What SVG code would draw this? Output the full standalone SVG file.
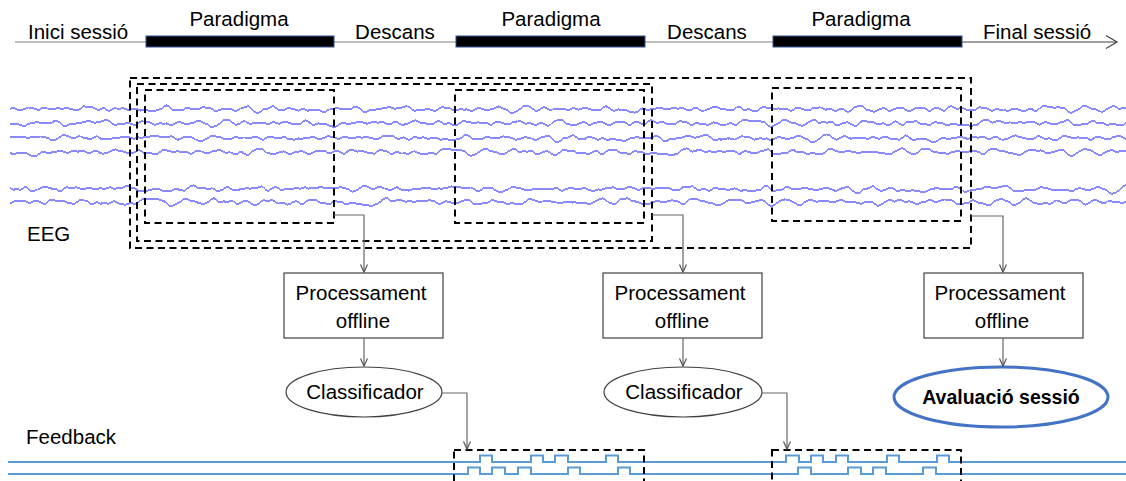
<svg xmlns="http://www.w3.org/2000/svg" width="1126" height="481" viewBox="0 0 1126 481">
<style>
text{font-family:"Liberation Sans",Arial,sans-serif;font-size:20.5px;fill:#000}
.b{font-weight:bold;font-size:19.5px}
.m{text-anchor:middle}
.dash{fill:none;stroke:#000;stroke-width:2;stroke-dasharray:7 4.5}
.box{fill:#fff;stroke:#404040;stroke-width:1.2}
.con{fill:none;stroke:#666;stroke-width:1.2;marker-end:url(#ah)}
.bar{fill:#000;stroke:#2F5597;stroke-width:1}
.eeg{fill:none;stroke:#4848ff;stroke-width:1.6;stroke-opacity:0.85}
.fb{fill:none;stroke:#5B9BD5;stroke-width:2}
</style>
<defs>
<marker id="ah" markerUnits="userSpaceOnUse" markerWidth="12" markerHeight="12" refX="8" refY="4" orient="auto">
<path d="M0.5,0.5 L8,4 L0.5,7.5" fill="none" stroke="#555" stroke-width="1.2"/>
</marker>
<filter id="wig" filterUnits="userSpaceOnUse" x="-1000" y="92" width="3200" height="125">
<feTurbulence type="fractalNoise" baseFrequency="0.075 0.001" numOctaves="2" seed="11" result="n0"/>
<feColorMatrix in="n0" type="matrix" values="0 0 0 0 0.5  0 1 0 0 0  0 0 0 0 0.5  0 0 0 0 1" result="n"/>
<feDisplacementMap in="SourceGraphic" in2="n" scale="13" xChannelSelector="R" yChannelSelector="G"/>
</filter>
</defs>

<g id="timeline">
<line x1="15" y1="42" x2="773" y2="42" stroke="#808080" stroke-width="1.2"/>
<line x1="962" y1="42" x2="1117" y2="42" stroke="#404040" stroke-width="1.2"/>
<path d="M1106,35.5 L1117,42 L1106,48.5" fill="none" stroke="#404040" stroke-width="1.2"/>
<rect class="bar" x="146" y="36" width="188" height="11"/>
<rect class="bar" x="456" y="36" width="189" height="11"/>
<rect class="bar" x="773" y="36" width="189" height="11"/>
<text x="28" y="39">Inici sessió</text>
<text class="m" x="239" y="26">Paradigma</text>
<text class="m" x="395" y="39">Descans</text>
<text class="m" x="551" y="26">Paradigma</text>
<text class="m" x="707" y="39">Descans</text>
<text class="m" x="861" y="26">Paradigma</text>
<text x="983" y="39">Final sessió</text>
</g>

<g id="eeg-signals">
<g transform="translate(0,0)" filter="url(#wig)"><line class="eeg" x1="10" y1="109" x2="1126" y2="109" stroke-opacity="0.5"/></g>
<g transform="translate(-300,0)" filter="url(#wig)"><line class="eeg" x1="310" y1="123" x2="1426" y2="123"/></g>
<g transform="translate(300,0)" filter="url(#wig)"><line class="eeg" x1="-290" y1="138" x2="826" y2="138"/></g>
<g transform="translate(-600,0)" filter="url(#wig)"><line class="eeg" x1="610" y1="152" x2="1726" y2="152"/></g>
<g transform="translate(600,0)" filter="url(#wig)"><line class="eeg" x1="-590" y1="189" x2="526" y2="189"/></g>
<g transform="translate(-900,0)" filter="url(#wig)"><line class="eeg" x1="910" y1="202" x2="2026" y2="202"/></g>
</g>
<text id="eeg-label" x="27" y="241">EEG</text>

<g id="window-outer"><rect class="dash" x="130" y="78" width="841" height="170"/></g>
<g id="window-mid"><rect class="dash" x="137" y="84" width="515" height="157"/></g>
<g id="window-1"><rect class="dash" x="145" y="90" width="189" height="133"/></g>
<g id="window-2"><rect class="dash" x="455" y="90" width="189" height="133"/></g>
<g id="window-3"><rect class="dash" x="772" y="88" width="189" height="133"/></g>

<g id="proc-1"><rect class="box" x="284" y="273" width="159" height="65"/>
<text class="m" x="361" y="300">Processament</text><text class="m" x="363" y="328">offline</text></g>
<g id="proc-2"><rect class="box" x="603" y="273" width="159" height="65"/>
<text class="m" x="680" y="300">Processament</text><text class="m" x="682" y="328">offline</text></g>
<g id="proc-3"><rect class="box" x="924" y="273" width="159" height="65"/>
<text class="m" x="1000" y="300">Processament</text><text class="m" x="1002" y="328">offline</text></g>

<g id="clf-1"><ellipse class="box" cx="364" cy="392" rx="78" ry="25"/><text class="m" x="365" y="399">Classificador</text></g>
<g id="clf-2"><ellipse class="box" cx="683" cy="392" rx="79" ry="25"/><text class="m" x="684" y="399">Classificador</text></g>
<g id="eval"><ellipse cx="1001" cy="397" rx="107" ry="30" fill="#fff" stroke="#4472C4" stroke-width="3"/><text class="m b" x="1001" y="404">Avaluació sessió</text></g>

<text id="feedback-label" x="26" y="444">Feedback</text>
<g id="feedback-signals">
<path class="fb" d="M8,462 H480 V455.5 H492 V462 H531 V455.5 H543 V462 H555 V455.5 H568 V462 H606 V455.5 H618 V462 H786 V455.5 H799 V462 H811 V455.5 H823 V462 H836 V455.5 H848 V462 H887 V455.5 H899 V462 H937 V455.5 H949 V462 H1126"/>
<path class="fb" d="M8,474 H468 V467.5 H480 V474 H492 V467.5 H505 V474 H518 V467.5 H531 V474 H568 V467.5 H580 V474 H618 V467.5 H630 V474 H798 V467.5 H811 V474 H848 V467.5 H861 V474 H873 V467.5 H886 V474 H923 V467.5 H936 V474 H1126"/>
</g>
<g id="fb-window-1"><rect class="dash" x="454" y="450" width="190" height="50"/></g>
<g id="fb-window-2"><rect class="dash" x="772" y="450" width="189" height="50"/></g>

<g id="connectors">
<path class="con" d="M334,215 H364 V272"/>
<path class="con" d="M364,338 V366"/>
<path class="con" d="M442,393 H467 V449"/>
<path class="con" d="M652,215 H683 V272"/>
<path class="con" d="M683,338 V366"/>
<path class="con" d="M762,393 H787 V449"/>
<path class="con" d="M971,216 H1003 V272"/>
<path class="con" d="M1003,338 V366"/>
</g>
</svg>
